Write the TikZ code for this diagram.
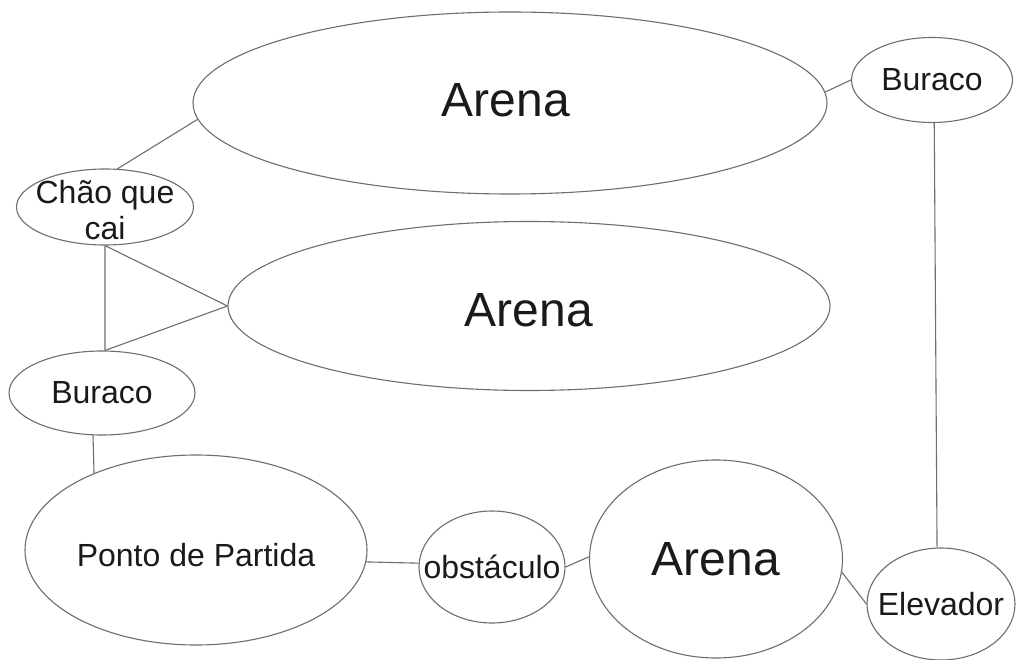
\documentclass[tikz,border=0pt]{standalone}
\usepackage{fontspec}
\setmainfont{Liberation Sans}
\usetikzlibrary{shapes.geometric}
\definecolor{edgeGray}{HTML}{6E6E6E}
\definecolor{inkGray}{HTML}{1A1A1A}
\tikzset{
  bubble/.style={draw=edgeGray, ellipse, line width=1.1pt, inner sep=0pt},
  word/.style={font=\fontsize{32}{36}\selectfont, text=inkGray, align=center, inner sep=0pt},
  bigword/.style={font=\fontsize{48}{56}\selectfont, text=inkGray, inner sep=0pt},
  link/.style={draw=edgeGray, line width=1.1pt}
}

\begin{document}
\begin{tikzpicture}[x=1pt, y=-1pt]
  \useasboundingbox[fill=white] (0,0) rectangle (1017,660);
  % arenas
  \node[bubble, minimum width=634pt, minimum height=182pt, label={[bigword, xshift=-4pt, yshift=3pt]center:Arena}] (topArena) at (510,103) {};
  \node[bubble, minimum width=602pt, minimum height=169pt, label={[bigword, yshift=-4pt]center:Arena}] (midArena) at (529,306) {};
  \node[bubble, minimum width=253pt, minimum height=198pt, label={[bigword]center:Arena}] (botArena) at (716,559) {};
  % the rest
  \node[bubble, minimum width=161pt, minimum height=85pt, label={[word]center:Buraco}] (buracoTop) at (932,80) {};
  \node[bubble, minimum width=177pt, minimum height=76pt, label={[word, yshift=-3pt]center:Chão que\\cai}] (chao) at (105,207) {};
  \node[bubble, minimum width=186pt, minimum height=84pt, label={[word]center:Buraco}] (buracoLeft) at (102,393) {};
  \node[bubble, minimum width=342pt, minimum height=190pt, label={[word, yshift=-5pt]center:Ponto de Partida}] (ponto) at (196,550) {};
  \node[bubble, minimum width=146pt, minimum height=112pt, label={[word]center:obstáculo}] (obst) at (492,567) {};
  \node[bubble, minimum width=148pt, minimum height=112pt, label={[word]center:Elevador}] (elev) at (941,604) {};

  \draw[link] (topArena.183) -- (chao.72);
  \draw[link] (topArena.2) -- (buracoTop.west);
  \draw[link] (buracoTop.273) -- (elev.94);
  \draw[link] (chao.south) -- (midArena.west);
  \draw[link] (chao.south) -- (buracoLeft.86);
  \draw[link] (buracoLeft.86) -- (midArena.west);
  \draw[link] (buracoLeft.258) -- (ponto.143);
  \draw[link] (ponto.356) -- (obst.177);
  \draw[link] (obst.east) -- (botArena.179);
  \draw[link] (botArena.354) -- (elev.west);
\end{tikzpicture}
\end{document}
